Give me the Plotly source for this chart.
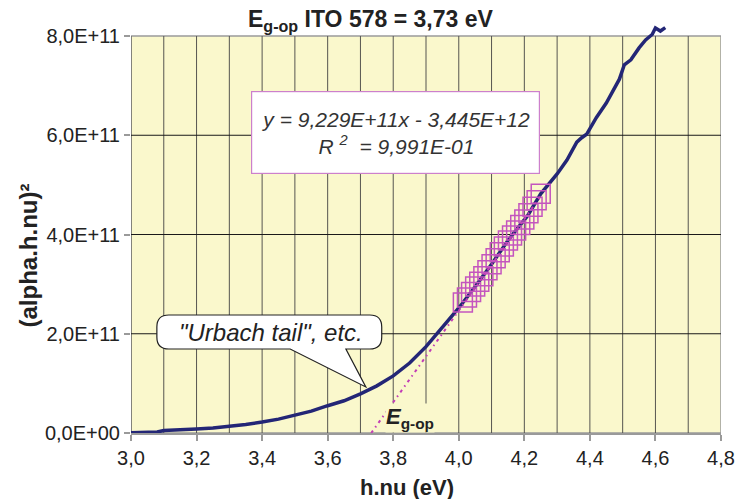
import plotly.graph_objects as go

# ---------------- data ----------------
SCALE = 1e11
hnu = [2.97, 3.00, 3.05, 3.08, 3.10, 3.15, 3.20, 3.25, 3.28, 3.30, 3.35, 3.40,
       3.45, 3.50, 3.55, 3.60, 3.65, 3.70, 3.75, 3.80, 3.85, 3.90, 3.95, 4.00,
       4.05, 4.10, 4.15, 4.19, 4.21, 4.25, 4.30, 4.33, 4.36, 4.375, 4.39, 4.42,
       4.45, 4.49, 4.505, 4.525, 4.55, 4.57, 4.59, 4.60, 4.615, 4.63]
alpha_sq = [0.00, 0.01, 0.01, 0.02, 0.05, 0.06, 0.08, 0.10, 0.12, 0.14, 0.17, 0.22,
            0.28, 0.36, 0.44, 0.55, 0.65, 0.79, 0.95, 1.15, 1.41, 1.74, 2.12, 2.52,
            2.95, 3.40, 3.88, 4.22, 4.38, 4.82, 5.22, 5.50, 5.86, 5.95, 6.02, 6.36,
            6.65, 7.13, 7.42, 7.52, 7.76, 7.92, 8.03, 8.16, 8.10, 8.17]

fit_hnu = [4.0125, 4.025, 4.0375, 4.05, 4.0625, 4.075, 4.0875, 4.10, 4.1125, 4.125,
           4.1375, 4.15, 4.1625, 4.175, 4.1875, 4.20, 4.2125, 4.225, 4.2375, 4.25]
fit_alpha_sq = [2.63, 2.73, 2.84, 2.95, 3.05, 3.16, 3.28, 3.40, 3.52, 3.64,
                3.76, 3.88, 3.98, 4.08, 4.19, 4.30, 4.43, 4.56, 4.69, 4.82]

slope = 9.229e11
intercept = -3.445e12
fit_end = 4.25

x_ticks = [3.0, 3.2, 3.4, 3.6, 3.8, 4.0, 4.2, 4.4, 4.6, 4.8]
x_ticktext = ["3,0", "3,2", "3,4", "3,6", "3,8", "4,0", "4,2", "4,4", "4,6", "4,8"]
x_grid = [3.0, 3.1, 3.2, 3.3, 3.4, 3.5, 3.6, 3.7, 3.8, 3.9, 4.0, 4.1, 4.2, 4.3,
          4.4, 4.5, 4.6, 4.7]
y_ticks = [0, 2e11, 4e11, 6e11, 8e11]
y_ticktext = ["0,0E+00", "2,0E+11", "4,0E+11", "6,0E+11", "8,0E+11"]
y_grid = [2e11, 4e11, 6e11]

# ---------------- layout geometry ----------------
W, H = 747, 499
L, R, T, B = 131, 23, 25, 66
PW, PH = W - L - R, H - T - B
FRAME_TOP_PX = 36
Y_FRAME = 8e11
Y_TOP = Y_FRAME * PH / (H - B - FRAME_TOP_PX)

FONT = "Liberation Sans, Arial, sans-serif"
YELLOW = "#FAF8CC"
NAVY = "#232676"
PINK = "#C455BE"


def px(xp):
    return (xp - L) / PW


def py(yp):
    return (H - B - yp) / PH


def P(xp, yp):
    return f"{px(xp):.5f},{py(yp):.5f}"


fig = go.Figure()

fig.add_trace(go.Scatter(
    x=hnu, y=[v * SCALE for v in alpha_sq], mode="lines",
    line=dict(color=NAVY, width=3.5), showlegend=False, hoverinfo="skip"))

fig.add_trace(go.Scatter(
    x=fit_hnu, y=[v * SCALE for v in fit_alpha_sq], mode="markers",
    marker=dict(symbol="square-open", size=19, color=PINK,
                line=dict(color=PINK, width=1.5)),
    showlegend=False, hoverinfo="skip"))

x0 = -intercept / slope
fit_line_x = [x0, fit_end]
fig.add_trace(go.Scatter(
    x=fit_line_x, y=[slope * v + intercept for v in fit_line_x], mode="lines",
    line=dict(color="#C23DB6", width=2, dash="3px,4px,1.5px,4px"),
    showlegend=False, hoverinfo="skip"))

shapes = []
shapes.append(dict(type="rect", xref="x", yref="y", x0=3.0, x1=4.8, y0=0, y1=Y_FRAME,
                   fillcolor=YELLOW, line=dict(color="#9A9A9A", width=1.5), layer="below"))
for g in x_grid:
    shapes.append(dict(type="line", xref="x", yref="y", x0=g, x1=g, y0=0, y1=Y_FRAME,
                       line=dict(color="#555550", width=1), layer="below"))
for g in y_grid:
    shapes.append(dict(type="line", xref="x", yref="y", x0=3.0, x1=4.8, y0=g, y1=g,
                       line=dict(color="#1A1A1A", width=1), layer="below"))

# speech bubble
r = 12
bl, br, bt, bb = 157, 383, 315, 349
bubble = (f"M {P(bl + r, bt)} L {P(br - r, bt)} Q {P(br, bt)} {P(br, bt + r)} "
          f"L {P(br, bb - r)} Q {P(br, bb)} {P(br - r, bb)} L {P(347, bb)} "
          f"L {P(367, 387)} L {P(291, bb)} L {P(bl + r, bb)} "
          f"Q {P(bl, bb)} {P(bl, bb - r)} L {P(bl, bt + r)} Q {P(bl, bt)} {P(bl + r, bt)} Z")
shapes.append(dict(type="path", xref="paper", yref="paper", path=bubble,
                   fillcolor="white", line=dict(color="#222222", width=1.2), layer="above"))

annotations = [
    dict(x=px(372), y=py(20), xref="paper", yref="paper", showarrow=False,
         text="<b>E<sub>g-op</sub> ITO 578 = 3,73 eV</b>",
         font=dict(family=FONT, size=23, color="#222222"), xanchor="center", yanchor="middle"),
    dict(x=px(408), y=py(487), xref="paper", yref="paper", showarrow=False,
         text="<b>h.nu (eV)</b>",
         font=dict(family=FONT, size=22, color="#222222"), xanchor="center", yanchor="middle"),
    dict(x=px(27), y=py(256), xref="paper", yref="paper", showarrow=False, textangle=-90,
         text="<b>(alpha.h.nu)²</b>",
         font=dict(family=FONT, size=24, color="#222222"), xanchor="center", yanchor="middle"),
    dict(x=px(397), y=py(132), xref="paper", yref="paper", showarrow=False,
         text="<i>y = 9,229E+11x - 3,445E+12</i><br><i>R <sup>2</sup>  = 9,991E-01</i>",
         font=dict(family=FONT, size=21, color="#333333"), align="center",
         bgcolor="white", bordercolor="#CC80CC", borderwidth=1.2, borderpad=3,
         width=281, height=75, xanchor="center", yanchor="middle"),
    dict(x=px(272), y=py(332), xref="paper", yref="paper", showarrow=False,
         text='<i>"Urbach tail", etc.</i>',
         font=dict(family=FONT, size=24, color="#222222"), xanchor="center", yanchor="middle"),
    dict(x=px(411), y=py(418), xref="paper", yref="paper", showarrow=False,
         text="<b><i>E</i><sub>g-op</sub></b>", bgcolor=YELLOW, borderpad=0,
         font=dict(family=FONT, size=22, color="#222222"), xanchor="center", yanchor="middle"),
]

fig.update_layout(
    width=W, height=H,
    margin=dict(l=L, r=R, t=T, b=B, pad=0),
    paper_bgcolor="white", plot_bgcolor="white",
    font=dict(family=FONT, size=20, color="#222222"),
    shapes=shapes, annotations=annotations, showlegend=False,
    xaxis=dict(range=[3.0, 4.8], tickvals=x_ticks, ticktext=x_ticktext,
               showgrid=False, zeroline=False, showline=True, linecolor="#9A9A9A",
               linewidth=1.5, ticks="outside", tickcolor="#9A9A9A", ticklen=6,
               tickwidth=1.5, tickfont=dict(family=FONT, size=20, color="#222222")),
    yaxis=dict(range=[0, Y_TOP], tickvals=y_ticks, ticktext=y_ticktext,
               showgrid=False, zeroline=False, showline=False,
               ticks="outside", tickcolor="#9A9A9A", ticklen=6, tickwidth=1.5,
               tickfont=dict(family=FONT, size=20, color="#222222")),
)

fig.write_html("out.html", config={"displayModeBar": False},
               post_script="document.body.style.margin='0';document.body.style.padding='0';")
